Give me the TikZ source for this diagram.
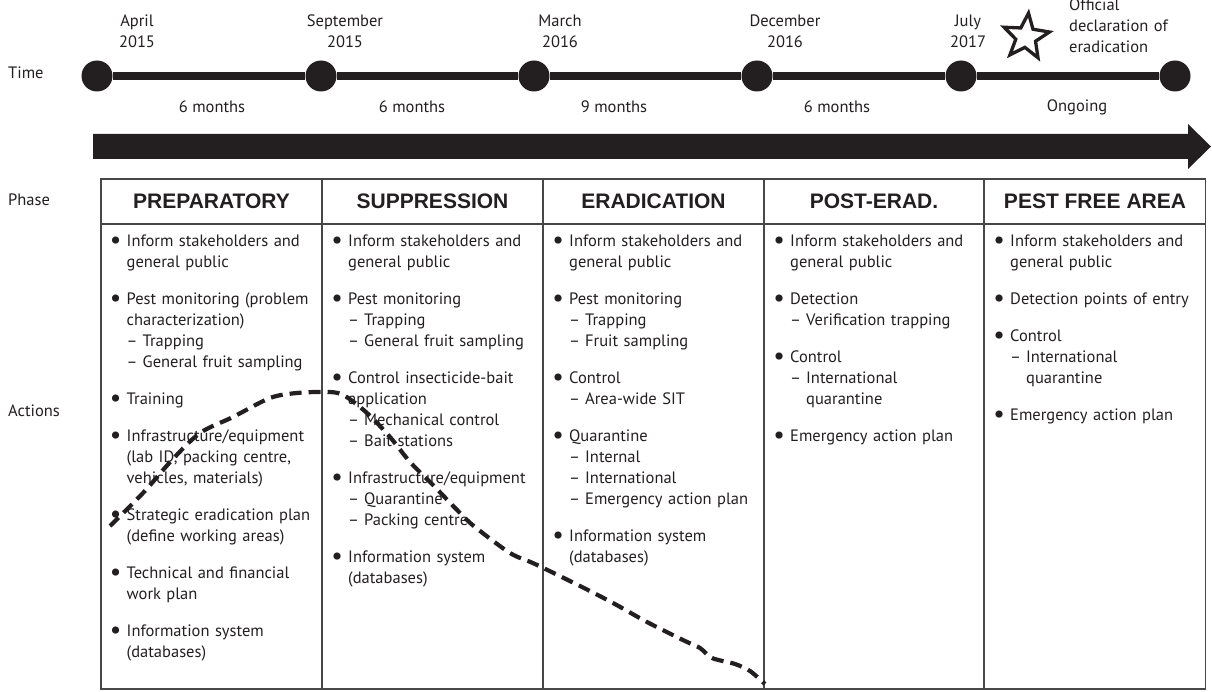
\documentclass[tikz,border=0pt]{standalone}
\usepackage{fontspec}
\setmainfont{PT Sans}
\newfontfamily\headfont{Liberation Sans}
\usetikzlibrary{shapes.geometric}
\definecolor{ink}{RGB}{35,31,32}
\newcommand{\bodysize}{\fontsize{16.5bp}{21bp}\selectfont}
\newcommand{\bl}{\leavevmode\llap{\makebox[22bp][c]{\raisebox{-2bp}{\scalebox{1.55}{\textbullet}}}}}
\newcommand{\sbl}{\makebox[16bp][l]{–}}
\newcommand{\ind}{\hspace*{16bp}}
\newcommand{\gp}{\\[16bp]}
\begin{document}
\begin{tikzpicture}[x=1bp,y=-1bp,
  every node/.style={inner sep=0pt, text=ink},
  txt/.style={font=\bodysize},
  dates/.style={font=\bodysize, text width=110bp, align=center, anchor=base},
  dot/.style={circle, fill=ink, minimum size=31bp, inner sep=0pt},
  tline/.style={draw=ink, line width=7.5bp},
  head/.style={font=\headfont\bfseries\fontsize{21bp}{24bp}\selectfont},
  coltext/.style={font=\bodysize, text width=205bp, align=left, anchor=base west},
  gridline/.style={draw=black!72, line width=1.6bp},
  dashcurve/.style={draw=ink, line width=4.2bp, dash pattern=on 12bp off 7bp},
  starmark/.style={star, star points=5, star point ratio=2.3, minimum size=48bp, draw=ink, line width=3.3bp, fill=white, rotate=-6}]
\useasboundingbox (0,0) rectangle (1212,692);

% left labels
\node[txt, anchor=west] (ltime) at (8,73) {Time};
\node[txt, anchor=west] (lphase) at (8,200) {Phase};
\node[txt, anchor=west] (lact) at (8,411) {Actions};

% timeline
\node[dot] (t1) at (97,76) {};
\node[dot] (t2) at (321,76) {};
\node[dot] (t3) at (534,76) {};
\node[dot] (t4) at (757,76) {};
\node[dot] (t5) at (961,76) {};
\node[dot] (t6) at (1175,76) {};
\draw[tline] (t1) -- (t2) -- (t3) -- (t4) -- (t5) -- (t6);

\node[dates] (d1) at (137,27) {April\\2015};
\node[dates] (d2) at (345,27) {September\\2015};
\node[dates] (d3) at (560,27) {March\\2016};
\node[dates] (d4) at (785,27) {December\\2016};
\node[dates] (d5) at (968,27) {July\\2017};
\node[starmark] (star) at (1026,37) {};
\node[txt, text width=130bp, align=left, anchor=base west] (off) at (1069,11) {Official\\declaration of\\eradication};

\node[txt] (m1) at (212,107) {6 months};
\node[txt] (m2) at (412,107) {6 months};
\node[txt] (m3) at (614,107) {9 months};
\node[txt] (m4) at (837,107) {6 months};
\node[txt] (m5) at (1077,107) {Ongoing};

% big arrow
\fill[ink] (93,134) -- (1188,134) -- (1188,124) -- (1211,146.5) -- (1188,169) -- (1188,159) -- (93,159) -- cycle;

% table
\draw[gridline] (101,179) rectangle (1205.5,689);
\draw[gridline] (101,224) -- (1205.5,224);
\foreach \xx in {322,543,764,984} {\draw[gridline] (\xx,179) -- (\xx,689);}

\node[head] (h1) at (211.5,201.5) {PREPARATORY};
\node[head] (h2) at (432.5,201.5) {SUPPRESSION};
\node[head] (h3) at (653.5,201.5) {ERADICATION};
\node[head] (h4) at (874,201.5) {POST-ERAD.};
\node[head] (h5) at (1095,201.5) {PEST FREE AREA};

\node[coltext] (c1) at (126.5,246) {%
\bl Inform stakeholders and\\ general public\gp
\bl Pest monitoring (problem\\ characterization)\\ \sbl Trapping\\ \sbl General fruit sampling\gp
\bl Training\gp
\bl Infrastructure/equipment\\ (lab ID, packing centre,\\ vehicles, materials)\gp
\bl Strategic eradication plan\\ (define working areas)\gp
\bl Technical and financial\\ work plan\gp
\bl Information system\\ (databases)};

\node[coltext] (c2) at (348,246) {%
\bl Inform stakeholders and\\ general public\gp
\bl Pest monitoring\\ \sbl Trapping\\ \sbl General fruit sampling\gp
\bl Control insecticide-bait\\ application\\ \sbl Mechanical control\\ \sbl Bait stations\gp
\bl Infrastructure/equipment\\ \sbl Quarantine\\ \sbl Packing centre\gp
\bl Information system\\ (databases)};

\node[coltext] (c3) at (569,246) {%
\bl Inform stakeholders and\\ general public\gp
\bl Pest monitoring\\ \sbl Trapping\\ \sbl Fruit sampling\gp
\bl Control\\ \sbl Area-wide SIT\gp
\bl Quarantine\\ \sbl Internal\\ \sbl International\\ \sbl Emergency action plan\gp
\bl Information system\\ (databases)};

\node[coltext] (c4) at (790,246) {%
\bl Inform stakeholders and\\ general public\gp
\bl Detection\\ \sbl Verification trapping\gp
\bl Control\\ \sbl International\\ \ind quarantine\gp
\bl Emergency action plan};

\node[coltext] (c5) at (1010,246) {%
\bl Inform stakeholders and\\ general public\gp
\bl Detection points of entry\gp
\bl Control\\ \sbl International\\ \ind quarantine\gp
\bl Emergency action plan};

% dashed trend curve
\draw[dashcurve] plot[smooth, tension=0.5] coordinates {(110,526) (143,493) (172,460) (200,433) (233,417) (270,398) (297,393) (330,392) (345,396) (367,413) (390,437) (410,462) (433,485) (460,513) (475,527) (510,553) (535,564) (580,586) (613,603) (647,622) (685,641) (700,648) (712,658) (735,664) (750,671) (765,684)};
\end{tikzpicture}
\end{document}
